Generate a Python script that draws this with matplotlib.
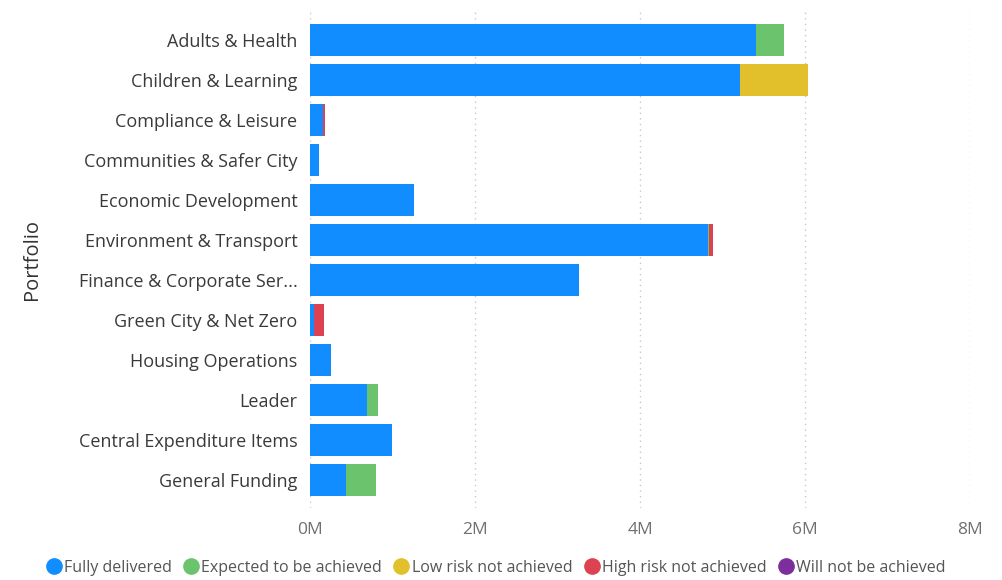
import matplotlib
matplotlib.use("Agg")
import matplotlib.pyplot as plt
from matplotlib.lines import Line2D
from matplotlib.ticker import FuncFormatter

plt.rcParams['font.family'] = ['Open Sans', 'DejaVu Sans']

categories = ["Adults & Health", "Children & Learning", "Compliance & Leisure",
              "Communities & Safer City", "Economic Development", "Environment & Transport",
              "Finance & Corporate Ser...", "Green City & Net Zero", "Housing Operations",
              "Leader", "Central Expenditure Items", "General Funding"]

series_names = ["Fully delivered", "Expected to be achieved", "Low risk not achieved",
                "High risk not achieved", "Will not be achieved"]

fully_delivered = [5.41, 5.21, 0.16, 0.11, 1.26, 4.82, 3.26, 0.05, 0.25, 0.69, 1.00, 0.44]
expected_achieved = [0.34, 0.00, 0.00, 0.00, 0.00, 0.015, 0.00, 0.00, 0.00, 0.14, 0.00, 0.36]
low_risk = [0.00, 0.83, 0.00, 0.00, 0.00, 0.00, 0.00, 0.00, 0.00, 0.00, 0.00, 0.00]
high_risk = [0.00, 0.00, 0.02, 0.00, 0.00, 0.055, 0.00, 0.12, 0.00, 0.00, 0.00, 0.00]
will_not = [0.00, 0.00, 0.00, 0.00, 0.00, 0.00, 0.00, 0.00, 0.00, 0.00, 0.00, 0.00]

colors = ["#118DFF", "#6BC46D", "#E2C02B", "#DD4252", "#7E2D9C"]

fig = plt.figure(figsize=(10.03, 5.80), dpi=100)
ax = fig.add_axes([310 / 1003, 1 - 508 / 580, 660 / 1003, 496 / 580])

ypos = list(range(len(categories)))
left = [0.0] * len(categories)
for vals, col in zip([fully_delivered, expected_achieved, low_risk, high_risk, will_not], colors):
    ax.barh(ypos, vals, left=left, height=0.78, color=col, zorder=3)
    left = [a + b for a, b in zip(left, vals)]

ax.set_ylim(11.7, -0.7)
ax.set_xlim(0, 8)
ax.set_xticks([0, 2, 4, 6, 8])
ax.xaxis.set_major_formatter(FuncFormatter(lambda v, p: f"{int(v)}M"))
ax.set_yticks(ypos)
ax.set_yticklabels(categories)
ax.tick_params(axis='y', length=0, pad=9, labelsize=13, labelcolor="#3a3a3a")
ax.tick_params(axis='x', length=0, pad=10, labelsize=12.5, labelcolor="#707070")
ax.grid(axis='x', linestyle=(0, (1, 3)), color="#c8c8c8", linewidth=1, zorder=0)
for s in ax.spines.values():
    s.set_visible(False)

fig.text(32 / 1003, 1 - 260 / 580, "Portfolio", rotation=90, ha='center', va='center',
         fontsize=14.5, color="#333333")

handles = [Line2D([], [], marker='o', linestyle='none', markersize=11, color=c) for c in colors]
fig.legend(handles, series_names, loc='center', bbox_to_anchor=(496 / 1003, 1 - 568 / 580),
           ncol=5, frameon=False, handletextpad=0.2, columnspacing=0.75,
           fontsize=11.5, labelcolor="#555555", handlelength=0.9)

fig.savefig("out.png", dpi=100)
